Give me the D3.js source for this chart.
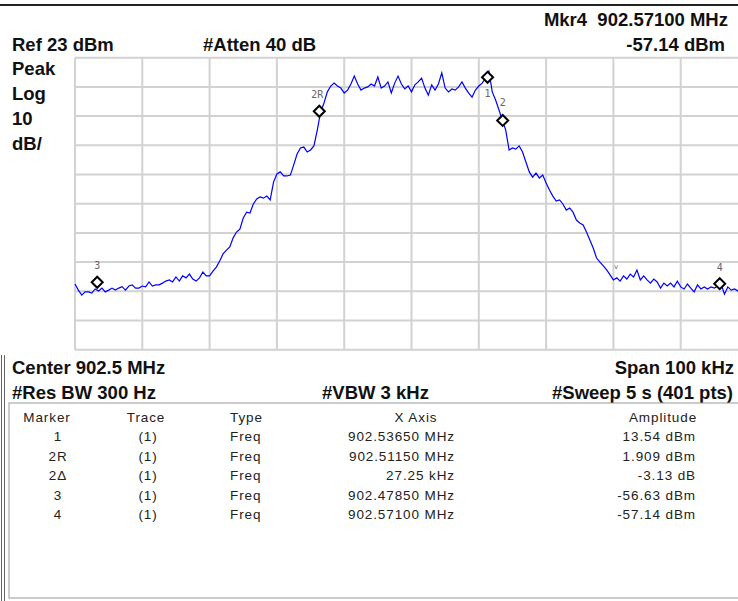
<!DOCTYPE html>
<html>
<head>
<meta charset="utf-8">
<script src="https://cdn.jsdelivr.net/npm/d3@7"></script>
<style>
  body { margin: 0; background: #fff; }
  svg { display: block; }
  .hdr { font-family: "Liberation Sans", Arial, sans-serif; font-weight: bold; font-size: 18.5px; fill: #111; white-space: pre; }
  .tbl { font-family: "Liberation Sans", Arial, sans-serif; font-size: 13.5px; letter-spacing: 0.9px; fill: #222; }
  .mlab { font-family: "DejaVu Sans Mono", monospace; font-size: 10px; fill: #666; }
</style>
</head>
<body>
<div id="chart"></div>
<script>
// sweep: 201 readings, 0.5 kHz apart, dBm
const startFreq = 902.4752;   // MHz, left edge of the screen
const spanMHz = 0.1;
const stepMHz = 0.0005;
const trace = [
  -54.5, -56.6, -58.3, -57.2, -57.2, -57.6, -56.2, -56.9, -55.9, -57.2,
  -56.6, -55.9, -56.6, -55.9, -55.4, -56.6, -55.2, -54.8, -55.9, -55.9,
  -55.2, -55.5, -53.8, -55.2, -54.8, -54.8, -54.2, -53.5, -53.1, -53.8,
  -52.1, -53.5, -51.7, -52.4, -51.1, -52.8, -53.5, -52.4, -50.4, -51.7,
  -51.7, -50.1, -48.7, -46.6, -44.2, -42.9, -41.8, -38.7, -36.7, -35.7,
  -31.9, -29.9, -30.2, -27.1, -25.4, -24.7, -25.1, -24.4, -25.7, -19.6,
  -16.8, -16.1, -17.5, -17.5, -17.2, -13.7, -10.0, -7.9, -7.6, -9.3,
  -8.6, -7.2, -1.8, 4.4, 7.5, 11.3, 13.3, 14.3, 13.3, 12.6,
  10.9, 11.9, 14.0, 16.7, 14.0, 11.9, 12.6, 13.0, 14.0, 13.3,
  16.4, 12.6, 13.3, 14.7, 10.9, 14.3, 16.7, 14.0, 12.3, 13.3,
  11.3, 13.7, 14.7, 16.0, 12.6, 10.2, 13.7, 11.9, 14.0, 17.8,
  12.6, 11.3, 12.3, 11.9, 13.0, 14.7, 12.6, 10.9, 9.5, 11.9,
  13.3, 14.3, 16.0, 18.4, 11.3, 8.5, 5.1, 1.6, -1.8, -8.6,
  -7.9, -8.3, -7.2, -9.3, -12.7, -16.1, -17.9, -16.5, -18.2, -17.2,
  -19.9, -22.3, -24.4, -26.1, -25.7, -27.1, -29.2, -28.5, -29.9, -32.6,
  -33.6, -34.3, -36.7, -39.4, -42.2, -45.6, -47.0, -48.3, -49.7, -51.4,
  -53.1, -52.4, -53.5, -51.7, -52.8, -51.1, -52.1, -49.7, -53.1, -51.7,
  -53.1, -54.2, -52.8, -53.8, -55.9, -54.2, -55.2, -54.2, -55.5, -53.5,
  -55.5, -56.2, -54.5, -55.9, -57.2, -54.8, -56.2, -55.5, -56.2, -55.5,
  -55.9, -55.2, -54.5, -58.0, -55.5, -56.6, -56.2, -56.9, -56.2, -56.6,
  -56.9
];

const refLevel = 23;
const dbPerDiv = 10;

// marker table
const markerNames = ["1", "2R", "2\u0394", "3", "4"];
const markerTrace = ["(1)", "(1)", "(1)", "(1)", "(1)"];
const markerType = ["Freq", "Freq", "Freq", "Freq", "Freq"];
const markerX = ["902.53650 MHz", "902.51150 MHz", "27.25 kHz", "902.47850 MHz", "902.57100 MHz"];
const markerAmp = ["13.54 dBm", "1.909 dBm", "-3.13 dB", "-56.63 dBm", "-57.14 dBm"];

// marker positions on screen
const mkLabels = ["1", "2R", "2", "3", "4"];
const mkFreq = [902.5365, 902.5115, 902.5115 + 0.02725, 902.4785, 902.5710];
const mkAmp = [13.54, 1.909, 1.909 - 3.13, -56.63, -57.14];

const W = 738, H = 601;
const plot = { left: 75, top: 57.7, width: 673, height: 292 };

const svg = d3.select("#chart").append("svg")
  .attr("width", W).attr("height", H);

const x = d3.scaleLinear()
  .domain([startFreq, startFreq + spanMHz])
  .range([plot.left, plot.left + plot.width]);

const y = d3.scaleLinear()
  .domain([refLevel - 10 * dbPerDiv, refLevel])
  .range([plot.top + plot.height, plot.top]);

// outer frame
svg.append("line").attr("x1", 0).attr("x2", W).attr("y1", 5).attr("y2", 5)
  .attr("stroke", "#222").attr("stroke-width", 2);

// grid
const gridX = d3.range(0, 11).map(i => startFreq + i * spanMHz / 10);
const gridY = d3.range(0, 11).map(i => refLevel - i * dbPerDiv);

const grid = svg.append("g").attr("stroke", "#d2d2d2").attr("stroke-width", 2);
grid.selectAll("line.v").data(gridX).join("line").attr("class", "v")
  .attr("x1", d => x(d)).attr("x2", d => x(d))
  .attr("y1", plot.top).attr("y2", plot.top + plot.height);
grid.selectAll("line.h").data(gridY).join("line").attr("class", "h")
  .attr("x1", plot.left).attr("x2", plot.left + plot.width)
  .attr("y1", d => y(d)).attr("y2", d => y(d));

// trace
const line = d3.line()
  .x((d, i) => x(startFreq + i * stepMHz))
  .y(d => y(d));

svg.append("path").datum(trace)
  .attr("d", line)
  .attr("fill", "none")
  .attr("stroke", "#0000ff")
  .attr("stroke-width", 1.2);

// markers (diamond drawn just above the point)
const mk = svg.append("g");
const labelOff = { "1": [0, 20], "2R": [-2, -13], "2": [0, -14], "3": [0, -13], "4": [0, -13] };
mkFreq.forEach((f, i) => {
  const cx = x(f), cy = y(mkAmp[i]) - 8;
  mk.append("path")
    .attr("d", `M${cx},${cy - 5.5}L${cx + 5.5},${cy}L${cx},${cy + 5.5}L${cx - 5.5},${cy}Z`)
    .attr("fill", "#fff").attr("stroke", "#000").attr("stroke-width", 2);
  const o = labelOff[mkLabels[i]];
  mk.append("text").attr("class", "mlab")
    .attr("x", cx + o[0]).attr("y", cy + o[1])
    .attr("text-anchor", "middle")
    .text(mkLabels[i]);
});
svg.append("text").attr("class", "mlab").attr("x", x(902.5556)).attr("y", y(-49.5))
  .attr("text-anchor", "middle").style("font-size", "7px").text("v");

// header / footer annotations
function hdr(t, xx, yy, anchor) {
  svg.append("text").attr("class", "hdr").attr("x", xx).attr("y", yy)
    .attr("text-anchor", anchor || "start").text(t);
}
hdr("Mkr4  902.57100 MHz", 728, 26, "end");
hdr("Ref 23 dBm", 12, 51);
hdr("#Atten 40 dB", 203, 51);
hdr("-57.14 dBm", 725, 51, "end");
hdr("Peak", 12, 75);
hdr("Log", 12, 100);
hdr("10", 12, 125);
hdr("dB/", 12, 150);
hdr("Center 902.5 MHz", 12, 374);
hdr("Span 100 kHz", 734, 374, "end");
hdr("#Res BW 300 Hz", 12, 399);
hdr("#VBW 3 kHz", 322, 399);
hdr("#Sweep 5 s (401 pts)", 733, 399, "end");

// marker table
svg.append("rect").attr("x", 9).attr("y", 403).attr("width", 740).attr("height", 195)
  .attr("fill", "none").attr("stroke", "#999").attr("stroke-width", 1);
[1.5, 4.5].forEach(lx => {
  svg.append("line").attr("x1", lx).attr("x2", lx).attr("y1", 355).attr("y2", 601)
    .attr("stroke", "#666").attr("stroke-width", 1);
});

const cols = [
  { head: "Marker", vals: markerNames, x: 58, anchor: "middle" },
  { head: "Trace", vals: markerTrace, x: 148, anchor: "middle" },
  { head: "Type", vals: markerType, x: 230, anchor: "start" },
  { head: "X Axis", vals: markerX, x: 455, anchor: "end" },
  { head: "Amplitude", vals: markerAmp, x: 696, anchor: "end" }
];
const headX = [47, 146, 230, 416, 663];
const headAnchor = ["middle", "middle", "start", "middle", "middle"];
cols.forEach((c, ci) => {
  svg.append("text").attr("class", "tbl").attr("x", headX[ci]).attr("y", 422)
    .attr("text-anchor", headAnchor[ci]).text(c.head);
  svg.selectAll(null).data(c.vals).join("text").attr("class", "tbl")
    .attr("x", c.x).attr("y", (d, i) => 441 + i * 19.6)
    .attr("text-anchor", c.anchor).text(d => d);
});
</script>
</body>
</html>
